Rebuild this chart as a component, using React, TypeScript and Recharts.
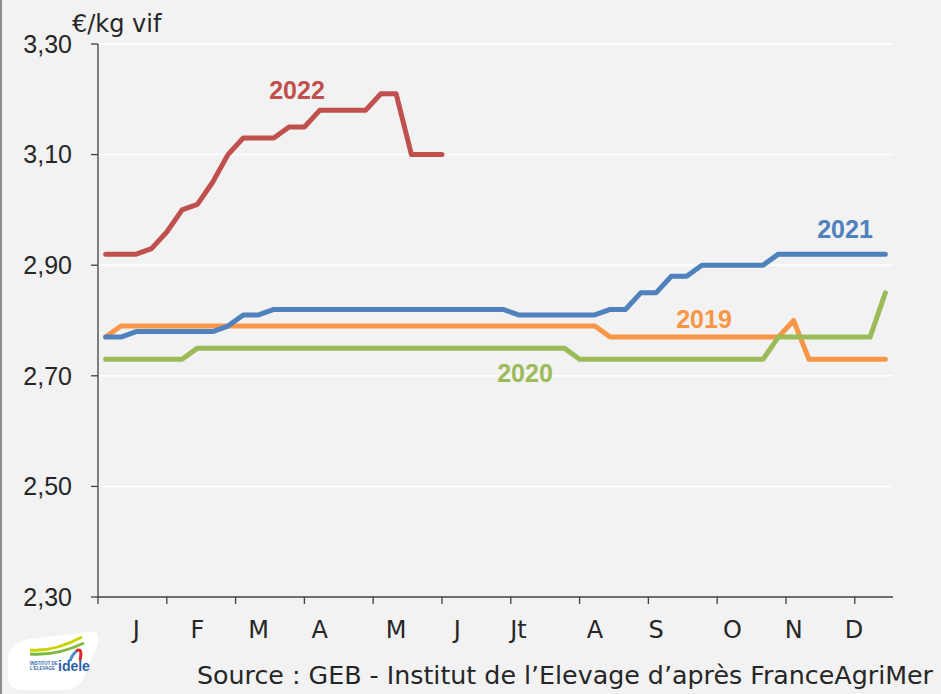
import { LineChart, Line, XAxis, YAxis, CartesianGrid } from 'recharts';

// prix hebdomadaire, €/kg vif, semaines 1 à 52
const prix2019 = [
  2.77, 2.79, 2.79, 2.79, 2.79, 2.79, 2.79, 2.79, 2.79, 2.79, 2.79, 2.79, 2.79,
  2.79, 2.79, 2.79, 2.79, 2.79, 2.79, 2.79, 2.79, 2.79, 2.79, 2.79, 2.79, 2.79,
  2.79, 2.79, 2.79, 2.79, 2.79, 2.79, 2.79, 2.77, 2.77, 2.77, 2.77, 2.77, 2.77,
  2.77, 2.77, 2.77, 2.77, 2.77, 2.77, 2.8, 2.73, 2.73, 2.73, 2.73, 2.73, 2.73,
];
const prix2020 = [
  2.73, 2.73, 2.73, 2.73, 2.73, 2.73, 2.75, 2.75, 2.75, 2.75, 2.75, 2.75, 2.75,
  2.75, 2.75, 2.75, 2.75, 2.75, 2.75, 2.75, 2.75, 2.75, 2.75, 2.75, 2.75, 2.75,
  2.75, 2.75, 2.75, 2.75, 2.75, 2.73, 2.73, 2.73, 2.73, 2.73, 2.73, 2.73, 2.73,
  2.73, 2.73, 2.73, 2.73, 2.73, 2.77, 2.77, 2.77, 2.77, 2.77, 2.77, 2.77, 2.85,
];
const prix2021 = [
  2.77, 2.77, 2.78, 2.78, 2.78, 2.78, 2.78, 2.78, 2.79, 2.81, 2.81, 2.82, 2.82,
  2.82, 2.82, 2.82, 2.82, 2.82, 2.82, 2.82, 2.82, 2.82, 2.82, 2.82, 2.82, 2.82,
  2.82, 2.81, 2.81, 2.81, 2.81, 2.81, 2.81, 2.82, 2.82, 2.85, 2.85, 2.88, 2.88,
  2.9, 2.9, 2.9, 2.9, 2.9, 2.92, 2.92, 2.92, 2.92, 2.92, 2.92, 2.92, 2.92,
];
const prix2022 = [
  2.92, 2.92, 2.92, 2.93, 2.96, 3.0, 3.01, 3.05, 3.1, 3.13, 3.13, 3.13, 3.15,
  3.15, 3.18, 3.18, 3.18, 3.18, 3.21, 3.21, 3.1, 3.1, 3.1,
];

const moisLabels = ['J', 'F', 'M', 'A', 'M', 'J', 'Jt', 'A', 'S', 'O', 'N', 'D'];
const moisSemaines = [3, 7, 11, 15, 20, 24, 28, 33, 37, 42, 46, 49.95];
const separations = [0.5, 5, 9.5, 14, 18.5, 23, 27.5, 32, 36.5, 41, 45.5, 50];
const yTicks = [2.3, 2.5, 2.7, 2.9, 3.1, 3.3];

const data = prix2019.map((v, i) => ({
  semaine: i + 1,
  a2019: v,
  a2020: prix2020[i],
  a2021: prix2021[i],
  a2022: i < prix2022.length ? prix2022[i] : null,
}));

const AXIS = '#404040';
const FONT_NUM = '"Liberation Sans", Arial, sans-serif';
const FONT_TXT = '"DejaVu Sans", sans-serif';

function MoisTick(props: any) {
  const { x, y, payload } = props;
  const idx = moisSemaines.indexOf(payload.value);
  if (idx >= 0) {
    return (
      <text x={x} y={y + 41} textAnchor="middle" fontSize={24} fontFamily={FONT_TXT} fill="#262626">
        {moisLabels[idx]}
      </text>
    );
  }
  return <line x1={x} x2={x} y1={y} y2={y + 7} stroke={AXIS} strokeWidth={1.3} />;
}

function Logo() {
  return (
    <g>
      <path
        d="M 8 656 Q 10 640 38 638 L 88 632 Q 102 630 97 646 L 83 680 Q 77 690 61 690 L 22 690 Q 6 690 8 673 Z"
        fill="#ffffff"
      />
      <path d="M 30 650 Q 54 652 82 637" stroke="#c8d400" strokeWidth={3} fill="none" />
      <path d="M 30 654 Q 57 656 84 643" stroke="#7dba3c" strokeWidth={3} fill="none" />
      <path d="M 70 661 Q 73 653 77 651" stroke="#4a90c8" strokeWidth={3} fill="none" />
      <path d="M 76 651 Q 83 647 80 660" stroke="#e3242b" strokeWidth={3} fill="none" />
      <text x={30} y={665} fontSize={4.5} fontFamily={FONT_NUM} fontWeight="bold" fill="#2d5fa8">INSTITUT DE</text>
      <text x={30} y={670} fontSize={4.5} fontFamily={FONT_NUM} fontWeight="bold" fill="#2d5fa8">L'ELEVAGE</text>
      <text x={58} y={671} fontSize={14} fontFamily={FONT_NUM} fontWeight="bold" fill="#2d5fa8">idele</text>
    </g>
  );
}

export default function App() {
  return (
    <div style={{ position: 'absolute', left: 0, top: 0, width: 941, height: 694, background: '#f2f2f2' }}>
      <div style={{ position: 'absolute', left: 0, top: 0, width: 2, height: 694, background: '#8c8c8c' }} />
      <LineChart width={941} height={694} data={data} margin={{ top: 44, right: 48, bottom: 0, left: 0 }}>
        <CartesianGrid vertical={false} stroke="#ffffff" strokeWidth={1.5} />
        <XAxis
          dataKey="semaine"
          type="number"
          domain={[0.5, 52.5]}
          allowDataOverflow
          ticks={[...separations, ...moisSemaines].sort((a, b) => a - b)}
          interval={0}
          tickLine={false}
          tickSize={0}
          tickMargin={0}
          tick={<MoisTick />}
          height={97}
          axisLine={{ stroke: AXIS, strokeWidth: 1.3 }}
        />
        <YAxis
          type="number"
          domain={[2.3, 3.3]}
          ticks={yTicks}
          interval={0}
          width={98}
          tickSize={7}
          tickMargin={19}
          tickFormatter={(v: number) => v.toFixed(2).replace('.', ',')}
          tick={{ fontSize: 25, fontFamily: FONT_NUM, fill: '#262626' }}
          tickLine={{ stroke: AXIS, strokeWidth: 1.3 }}
          axisLine={{ stroke: AXIS, strokeWidth: 1.3 }}
        />
        <Line dataKey="a2019" stroke="#f79646" strokeWidth={5} dot={false} strokeLinecap="round" strokeLinejoin="round" isAnimationActive={false} />
        <Line dataKey="a2020" stroke="#9bbb59" strokeWidth={5} dot={false} strokeLinecap="round" strokeLinejoin="round" isAnimationActive={false} />
        <Line dataKey="a2021" stroke="#4f81bd" strokeWidth={5} dot={false} strokeLinecap="round" strokeLinejoin="round" isAnimationActive={false} />
        <Line dataKey="a2022" stroke="#c0504d" strokeWidth={5} dot={false} strokeLinecap="round" strokeLinejoin="round" isAnimationActive={false} />
      </LineChart>
      <svg width={941} height={694} style={{ position: 'absolute', left: 0, top: 0, pointerEvents: 'none' }}>
        <text x={72} y={32} fontSize={24} fontFamily={FONT_TXT} fill="#262626">€/kg vif</text>
        <text x={297} y={98.5} textAnchor="middle" fontSize={25} fontWeight="bold" fontFamily={FONT_NUM} fill="#c0504d">2022</text>
        <text x={845} y={238} textAnchor="middle" fontSize={25} fontWeight="bold" fontFamily={FONT_NUM} fill="#4f81bd">2021</text>
        <text x={704} y={328} textAnchor="middle" fontSize={25} fontWeight="bold" fontFamily={FONT_NUM} fill="#f79646">2019</text>
        <text x={525} y={381.5} textAnchor="middle" fontSize={25} fontWeight="bold" fontFamily={FONT_NUM} fill="#9bbb59">2020</text>
        <text x={197} y={684} fontSize={25} textLength={736} lengthAdjust="spacingAndGlyphs" fontFamily={FONT_TXT} fill="#262626">Source : GEB - Institut de l’Elevage d’après FranceAgriMer</text>
        <Logo />
      </svg>
    </div>
  );
}
